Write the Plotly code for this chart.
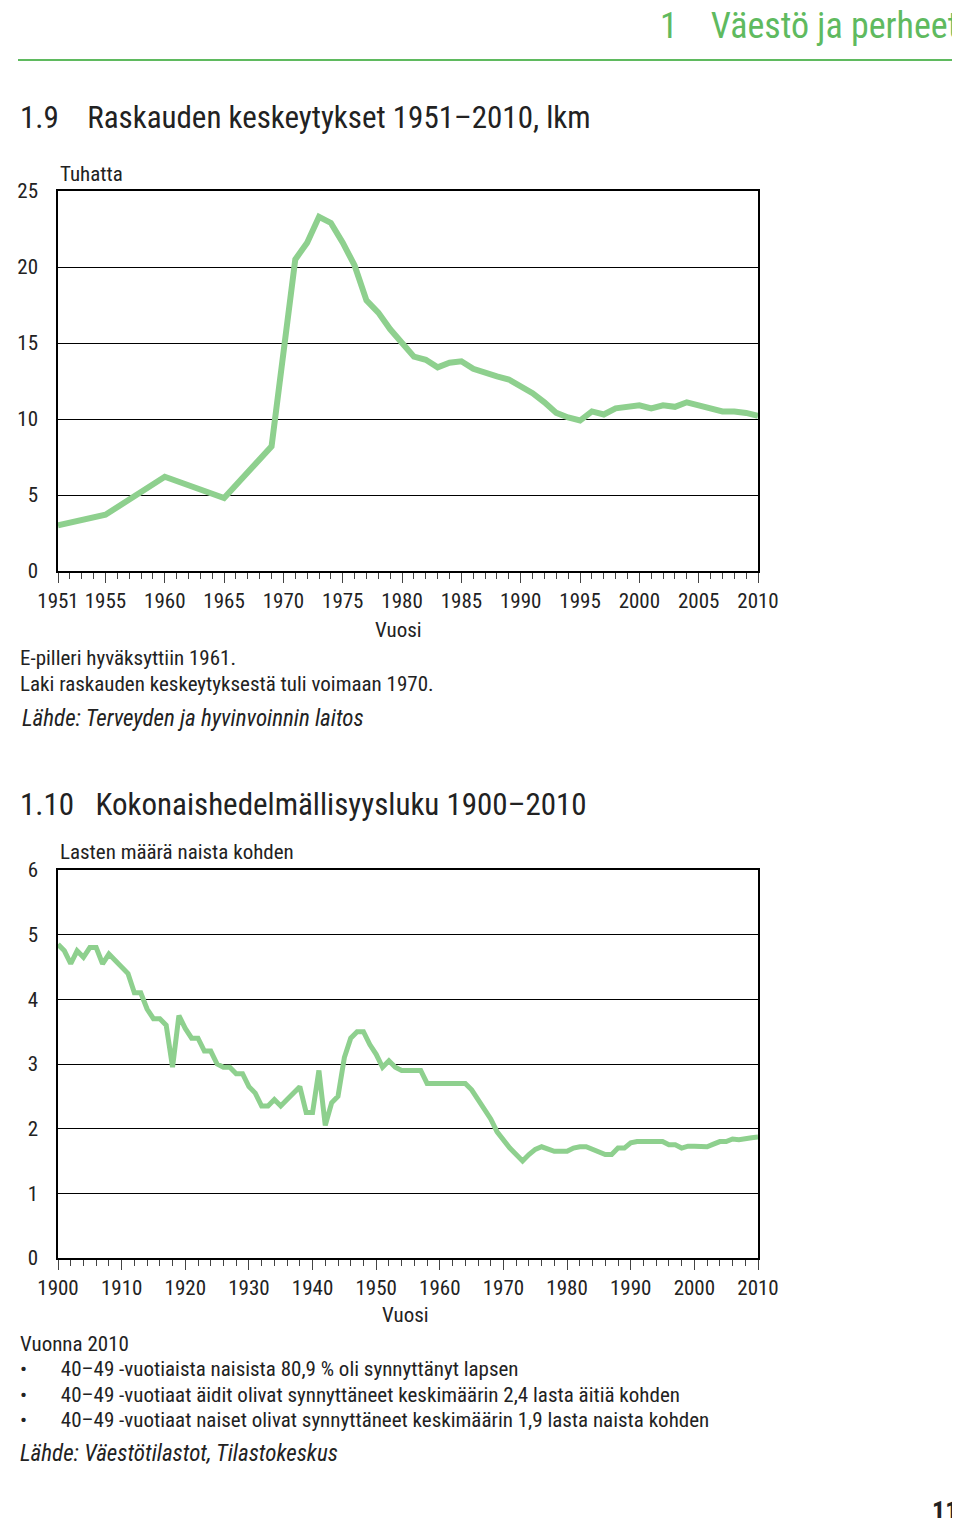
import plotly.graph_objects as go

H = 1518
def py(px): return 1 - px / H
def px_x(px): return px / 960

years1 = [1951, 1955, 1960, 1965, 1969, 1970, 1971, 1972, 1973, 1974, 1975, 1976, 1977, 1978, 1979,
          1980, 1981, 1982, 1983, 1984, 1985, 1986, 1987, 1988, 1989, 1990, 1991, 1992, 1993, 1994,
          1995, 1996, 1997, 1998, 1999, 2000, 2001, 2002, 2003, 2004, 2005, 2006, 2007, 2008, 2009, 2010]
abort_k = [3.0, 3.7, 6.2, 4.8, 8.2, 14.5, 20.5, 21.6, 23.3, 22.9, 21.6, 20.1, 17.8, 17.0, 15.9,
           15.0, 14.1, 13.9, 13.4, 13.7, 13.8, 13.3, 13.0, 12.8, 12.6, 12.2, 11.7, 11.1, 10.4, 10.1,
           9.9, 10.5, 10.3, 10.7, 10.8, 10.9, 10.7, 10.9, 10.8, 11.1, 10.9, 10.7, 10.5, 10.5, 10.4, 10.2]
ticks1 = [1951, 1955, 1960, 1965, 1970, 1975, 1980, 1985, 1990, 1995, 2000, 2005, 2010]

years2 = list(range(1900, 2011))
tfr = [4.85, 4.75, 4.55, 4.75, 4.65, 4.8, 4.8, 4.55, 4.7, 4.6,
       4.5, 4.4, 4.1, 4.1, 3.85, 3.7, 3.7, 3.6, 2.95, 3.75,
       3.55, 3.4, 3.4, 3.2, 3.2, 3.0, 2.95, 2.95, 2.85, 2.85,
       2.65, 2.55, 2.35, 2.35, 2.45, 2.35, 2.45, 2.55, 2.65, 2.25,
       2.25, 2.9, 2.05, 2.4, 2.5, 3.1, 3.4, 3.5, 3.5, 3.3,
       3.15, 2.95, 3.05, 2.95, 2.9, 2.9, 2.9, 2.9, 2.7, 2.7,
       2.7, 2.7, 2.7, 2.7, 2.7, 2.6, 2.45, 2.3, 2.15, 1.95,
       1.82, 1.7, 1.6, 1.5, 1.6, 1.68, 1.72, 1.68, 1.65, 1.65,
       1.65, 1.7, 1.72, 1.72, 1.68, 1.65, 1.6, 1.6, 1.7, 1.7,
       1.78, 1.8, 1.8, 1.8, 1.8, 1.8, 1.75, 1.75, 1.7, 1.73,
       1.73, 1.73, 1.72, 1.76, 1.8, 1.8, 1.84, 1.83, 1.85, 1.86, 1.87]
ticks2 = list(range(1900, 2011, 10))

GREEN = "#8ed08e"
HEAD = "#5fba5f"
FONT = "Liberation Sans Narrow, Roboto Condensed, DejaVu Sans Condensed, Arial Narrow, sans-serif"

fig = go.Figure()
fig.add_trace(go.Scatter(x=years1, y=abort_k, mode="lines", line=dict(color=GREEN, width=6),
                         xaxis="x", yaxis="y", showlegend=False))
fig.add_trace(go.Scatter(x=years2, y=tfr, mode="lines", line=dict(color=GREEN, width=5),
                         xaxis="x2", yaxis="y2", showlegend=False))

ax_common = dict(showline=True, linecolor="black", linewidth=1.5, mirror=True, automargin=False,
                 tickfont=dict(size=21, color="#222"), ticks="outside", ticklen=10,
                 tickcolor="#444", showgrid=False, zeroline=False, fixedrange=True)
yax = {**ax_common, "ticks": "", "showgrid": True, "gridcolor": "black", "gridwidth": 1,
       "ticklabelstandoff": 14}
fig.update_layout(
    width=960, height=H, margin=dict(l=0, r=0, t=0, b=0, autoexpand=False),
    paper_bgcolor="white", plot_bgcolor="white", font=dict(family=FONT, color="#222"),
    xaxis=dict(domain=[px_x(50), px_x(750)], anchor="y", range=[1951, 2010],
               tickvals=ticks1, minor=dict(dtick=1, ticks="outside", ticklen=6, tickcolor="#444"),
               **ax_common),
    yaxis=dict(domain=[py(563), py(183)], anchor="x", range=[0, 25], tickvals=[0, 5, 10, 15, 20, 25], **yax),
    xaxis2=dict(domain=[px_x(50), px_x(750)], anchor="y2", range=[1900, 2010],
                tickvals=ticks2, minor=dict(dtick=2, ticks="outside", ticklen=6, tickcolor="#444"),
                **ax_common),
    yaxis2=dict(domain=[py(1250), py(862)], anchor="x2", range=[0, 6], tickvals=list(range(7)), **yax),
)

def txt(x, y, t, size=20, color="#222", xanchor="left", italic=False):
    fig.add_annotation(x=px_x(x), y=py(y), xref="paper", yref="paper", text=t, showarrow=False,
                       xanchor=xanchor, yanchor="middle",
                       font=dict(size=size, color=color, family=FONT,
                                 style="italic" if italic else "normal"))

txt(952, 18, "1    Väestö ja perheet", size=36, color=HEAD, xanchor="right")
fig.add_shape(type="line", xref="paper", yref="paper", x0=px_x(10), x1=px_x(952), y0=py(52), y1=py(52),
              line=dict(color=HEAD, width=2))
txt(10, 110, "1.9    Raskauden keskeytykset 1951–2010, lkm", size=31)
txt(50, 166, "Tuhatta", size=21)
txt(390, 622, "Vuosi", size=21, xanchor="center")
txt(10, 650, "E-pilleri hyväksyttiin 1961.", size=21)
txt(10, 676, "Laki raskauden keskeytyksestä tuli voimaan 1970.", size=21)
txt(12, 711, "Lähde: Terveyden ja hyvinvoinnin laitos", size=23, italic=True)

txt(10, 796, "1.10   Kokonaishedelmällisyysluku 1900–2010", size=31)
txt(50, 844, "Lasten määrä naista kohden", size=21)
txt(397, 1307, "Vuosi", size=21, xanchor="center")
txt(10, 1336, "Vuonna 2010", size=21)
txt(10, 1361, "•       40–49 -vuotiaista naisista 80,9 % oli synnyttänyt lapsen", size=21)
txt(10, 1387, "•       40–49 -vuotiaat äidit olivat synnyttäneet keskimäärin 2,4 lasta äitiä kohden", size=21)
txt(10, 1412, "•       40–49 -vuotiaat naiset olivat synnyttäneet keskimäärin 1,9 lasta naista kohden", size=21)
txt(10, 1445, "Lähde: Väestötilastot, Tilastokeskus", size=23, italic=True)
txt(952, 1503, "<b>11</b>", size=26, xanchor="right")

fig.write_html("out.html")
